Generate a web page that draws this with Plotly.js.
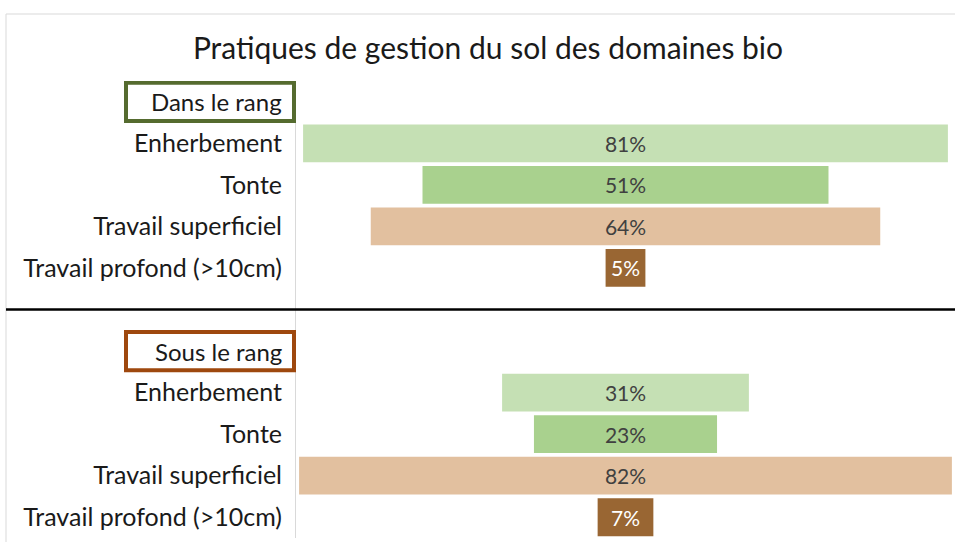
<!DOCTYPE html>
<html>
<head>
<meta charset="utf-8">
<script src="https://cdn.plot.ly/plotly-3.0.1.min.js"></script>
<style>html,body{margin:0;padding:0;background:#fff;}#chart{width:955px;height:542px;}</style>
</head>
<body>
<div id="chart"></div>
<script>
const chartTitle = 'Pratiques de gestion du sol des domaines bio';
const groups = ['Dans le rang', 'Sous le rang'];
const practices = ['Enherbement', 'Tonte', 'Travail superficiel', 'Travail profond (>10cm)'];
const dansLeRang = [81, 51, 64, 5];
const sousLeRang = [31, 23, 82, 7];

const barColors = ['#C5E0B4', '#A9D18E', '#E2C09F', '#996633'];
const textColors = ['#404040', '#404040', '#404040', '#FFFFFF'];
const groupBorders = ['#556B2F', '#9E480E'];

const W = 955, H = 542;
const M = {l: 296, r: 2, t: 81, b: 4};
const PW = W - M.l - M.r, PH = H - M.t - M.b;
const px2x = px => (px - M.l) / PW;
const py2y = py => (H - M.b - py) / PH;
const FONT = 'Lato, sans-serif';

const series = [dansLeRang, sousLeRang];
const traces = [];
const tickvals = [], ticktext = [];
const annotations = [];
const shapes = [
  {type: 'line', xref: 'paper', yref: 'paper', x0: px2x(6), x1: px2x(960), y0: py2y(14), y1: py2y(14), line: {color: '#D9D9D9', width: 1}},
  {type: 'line', xref: 'paper', yref: 'paper', x0: px2x(6), x1: px2x(6), y0: py2y(14), y1: py2y(545), line: {color: '#D9D9D9', width: 1}},
  {type: 'line', xref: 'paper', yref: 'y', x0: px2x(6), x1: px2x(960), y0: 5, y1: 5, line: {color: '#000000', width: 2.5}}
];

series.forEach((vals, g) => {
  const headY = g * 6;
  shapes.push({
    type: 'rect', xref: 'paper', yref: 'y', x0: px2x(126), x1: px2x(294), y0: headY - 0.46, y1: headY + 0.46,
    line: {color: groupBorders[g], width: 4}, fillcolor: 'rgba(0,0,0,0)'
  });
  annotations.push({
    xref: 'paper', yref: 'y', x: px2x(284), y: headY, xanchor: 'right', yanchor: 'middle',
    text: groups[g], showarrow: false, align: 'right',
    font: {family: FONT, size: 24, color: '#1a1a1a'}
  });
  practices.forEach((p, i) => {
    tickvals.push(headY + 1 + i);
    ticktext.push(p);
  });
});

practices.forEach((p, i) => {
  const ys = [], xs = [], bases = [], txt = [];
  series.forEach((vals, g) => {
    ys.push(g * 6 + 1 + i);
    xs.push(vals[i]);
    bases.push(-vals[i] / 2);
    txt.push(vals[i] + '%');
  });
  traces.push({
    type: 'bar', orientation: 'h', y: ys, x: xs, base: bases, width: 0.91,
    marker: {color: barColors[i], line: {width: 0}},
    text: txt, textposition: 'inside', insidetextanchor: 'middle', constraintext: 'none',
    textfont: {family: FONT, size: 21, color: textColors[i]},
    hoverinfo: 'skip', showlegend: false, name: p
  });
});

const layout = {
  width: W, height: H, margin: M, paper_bgcolor: '#FFFFFF', plot_bgcolor: '#FFFFFF',
  barmode: 'overlay',
  title: {text: chartTitle, xref: 'container', yref: 'container', x: 488 / W, y: (H - 48) / H,
          xanchor: 'center', yanchor: 'middle', font: {family: FONT, size: 30, color: '#1a1a1a'}},
  xaxis: {range: [-41.39, 41.14], showgrid: false, zeroline: false, showticklabels: false, fixedrange: true},
  yaxis: {range: [10.5, -0.5], tickvals: tickvals, ticktext: ticktext, showgrid: false, zeroline: false,
          showline: true, linecolor: '#D9D9D9', linewidth: 1, ticks: '', ticklabelstandoff: 8,
          tickfont: {family: FONT, size: 25, color: '#1a1a1a'}, fixedrange: true},
  shapes: shapes, annotations: annotations
};

Plotly.newPlot('chart', traces, layout, {displayModeBar: false, staticPlot: true});
</script>
</body>
</html>
